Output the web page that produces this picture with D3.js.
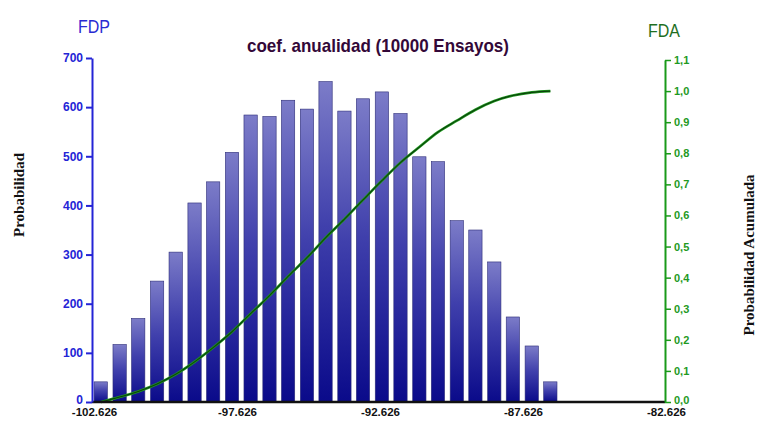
<!DOCTYPE html>
<html>
<head>
<meta charset="utf-8">
<script src="https://cdn.jsdelivr.net/npm/d3@7"></script>
<style>
  body { margin: 0; background: #fff; }
  svg { display: block; }
</style>
</head>
<body>
<svg id="chart" width="761" height="421"></svg>
<script>
// coef. anualidad -- histogram (FDP) + cumulative (FDA)

var binCenters = [-102.39, -101.73, -101.08, -100.42, -99.77, -99.11, -98.46,
  -97.80, -97.15, -96.49, -95.84, -95.18, -94.53, -93.87, -93.22, -92.56,
  -91.91, -91.25, -90.60, -89.94, -89.29, -88.63, -87.98, -87.32, -86.67];
var counts = [41, 117, 170, 246, 305, 405, 448, 508, 584, 581, 614, 596, 652,
  592, 617, 631, 587, 499, 489, 369, 350, 285, 173, 114, 41];
var cdf = [0.0, 0.016, 0.034, 0.058, 0.089, 0.129, 0.175, 0.226, 0.284, 0.342,
  0.404, 0.464, 0.528, 0.588, 0.650, 0.712, 0.770, 0.820, 0.868, 0.905,
  0.940, 0.968, 0.986, 0.996, 1.0];
var binWidth = 0.465;

var xTicks = [-102.626, -97.626, -92.626, -87.626, -82.626];
var leftTicks = [0, 100, 200, 300, 400, 500, 600, 700];
var rightTicks = [0, 0.1, 0.2, 0.3, 0.4, 0.5, 0.6, 0.7, 0.8, 0.9, 1.0, 1.1];

var titleText = "coef. anualidad (10000 Ensayos)";

///////////////////////////////////////////////////////////////////////////////
// Scales

var svg = d3.select("#chart");
var leftX = 92, rightX = 665, baseY = 402;

var x = d3.scaleLinear().domain([-102.626, -82.626]).range([94, 666]);
var y = d3.scaleLinear().domain([0, 700]).range([baseY, 58]);
var y2 = d3.scaleLinear().domain([0, 1.1]).range([baseY, 60]);

var narrow = "'Liberation Sans Narrow', 'Arial Narrow', 'Liberation Sans', sans-serif";
var sans = "'Liberation Sans', Arial, sans-serif";

var defs = svg.append("defs");
var grad = defs.append("linearGradient")
  .attr("id", "barGrad")
  .attr("x1", 0).attr("y1", 0).attr("x2", 0).attr("y2", 1);
grad.append("stop").attr("offset", "0%").attr("stop-color", "#7c7cc8");
grad.append("stop").attr("offset", "45%").attr("stop-color", "#4040ac");
grad.append("stop").attr("offset", "100%").attr("stop-color", "#0a0a8a");

///////////////////////////////////////////////////////////////////////////////
// Bars

svg.append("g").selectAll("rect")
  .data(counts)
  .join("rect")
  .attr("x", function (d, i) { return x(binCenters[i] - binWidth / 2); })
  .attr("width", function () { return x(binWidth) - x(0); })
  .attr("y", function (d) { return y(d); })
  .attr("height", function (d) { return baseY - y(d); })
  .attr("fill", "url(#barGrad)")
  .attr("stroke", "#2c2c78")
  .attr("stroke-width", 0.6);

///////////////////////////////////////////////////////////////////////////////
// Cumulative line

var line = d3.line()
  .x(function (d, i) { return x(binCenters[i]); })
  .y(function (d) { return y2(d); })
  .curve(d3.curveMonotoneX);

svg.append("path")
  .datum(cdf)
  .attr("d", line)
  .attr("fill", "none")
  .attr("stroke", "#1e9a1e")
  .attr("stroke-width", 2.6);
svg.append("path")
  .datum(cdf)
  .attr("d", line)
  .attr("fill", "none")
  .attr("stroke", "#0b3f0b")
  .attr("stroke-width", 1.1);

///////////////////////////////////////////////////////////////////////////////
// Axes

var xAxis = svg.append("g")
  .attr("transform", "translate(0," + baseY + ")")
  .call(d3.axisBottom(x).tickValues(xTicks).tickSize(0).tickPadding(6)
    .tickFormat(function (d) { return d.toFixed(3); }));
xAxis.select(".domain").remove();
xAxis.selectAll("text")
  .attr("font-family", sans)
  .attr("font-weight", "bold")
  .attr("font-size", 11.5)
  .attr("fill", "#111");
svg.append("line")
  .attr("x1", leftX).attr("x2", rightX)
  .attr("y1", baseY).attr("y2", baseY)
  .attr("stroke", "#111").attr("stroke-width", 2.5);

var yAxis = svg.append("g")
  .attr("transform", "translate(" + leftX + ",0)")
  .call(d3.axisLeft(y).tickValues(leftTicks).tickSize(6).tickSizeOuter(0)
    .tickPadding(3));
yAxis.select(".domain").attr("stroke", "#2424d6").attr("stroke-width", 2);
yAxis.selectAll(".tick line").attr("stroke", "#2424d6").attr("stroke-width", 2);
yAxis.selectAll("text")
  .attr("font-family", sans)
  .attr("font-weight", "bold")
  .attr("font-size", 12)
  .attr("fill", "#2424d6");

var y2Axis = svg.append("g")
  .attr("transform", "translate(" + rightX + ",0)")
  .call(d3.axisRight(y2).tickValues(rightTicks).tickSize(6).tickSizeOuter(0)
    .tickPadding(3)
    .tickFormat(function (d) { return d.toFixed(1).replace(".", ","); }));
y2Axis.select(".domain").attr("stroke", "#1a9a1a").attr("stroke-width", 2);
y2Axis.selectAll(".tick line").attr("stroke", "#1a9a1a").attr("stroke-width", 1.5);
y2Axis.selectAll("text")
  .attr("font-family", sans)
  .attr("font-weight", "bold")
  .attr("font-size", 11)
  .attr("fill", "#1f9a1f");

// nudge the two zero labels up a touch so they clear the x labels
yAxis.selectAll(".tick text").filter(function (d) { return d === 0; }).attr("dy", "0.1em");
y2Axis.selectAll(".tick text").filter(function (d) { return d === 0; }).attr("dy", "0.1em");

///////////////////////////////////////////////////////////////////////////////
// Titles

svg.append("text")
  .attr("x", 378).attr("y", 52)
  .attr("text-anchor", "middle")
  .attr("font-family", narrow)
  .attr("font-weight", "bold")
  .attr("font-size", 19)
  .attr("fill", "#330838")
  .attr("textLength", 262)
  .attr("lengthAdjust", "spacingAndGlyphs")
  .text(titleText);

svg.append("text")
  .attr("x", 94).attr("y", 33)
  .attr("text-anchor", "middle")
  .attr("font-family", narrow)
  .attr("font-size", 19)
  .attr("fill", "#2a2ad2")
  .attr("textLength", 32)
  .attr("lengthAdjust", "spacingAndGlyphs")
  .text("FDP");

svg.append("text")
  .attr("x", 664).attr("y", 37)
  .attr("text-anchor", "middle")
  .attr("font-family", narrow)
  .attr("font-size", 18)
  .attr("fill", "#1f6f1f")
  .attr("textLength", 32)
  .attr("lengthAdjust", "spacingAndGlyphs")
  .text("FDA");

svg.append("text")
  .attr("transform", "translate(24,195) rotate(-90)")
  .attr("text-anchor", "middle")
  .attr("font-family", "'Liberation Serif', 'Times New Roman', serif")
  .attr("font-weight", "bold")
  .attr("font-size", 15)
  .attr("fill", "#111")
  .text("Probabilidad");

svg.append("text")
  .attr("transform", "translate(754,255) rotate(-90)")
  .attr("text-anchor", "middle")
  .attr("font-family", "'Liberation Serif', 'Times New Roman', serif")
  .attr("font-weight", "bold")
  .attr("font-size", 15)
  .attr("fill", "#111")
  .text("Probabilidad Acumulada");
</script>
</body>
</html>
